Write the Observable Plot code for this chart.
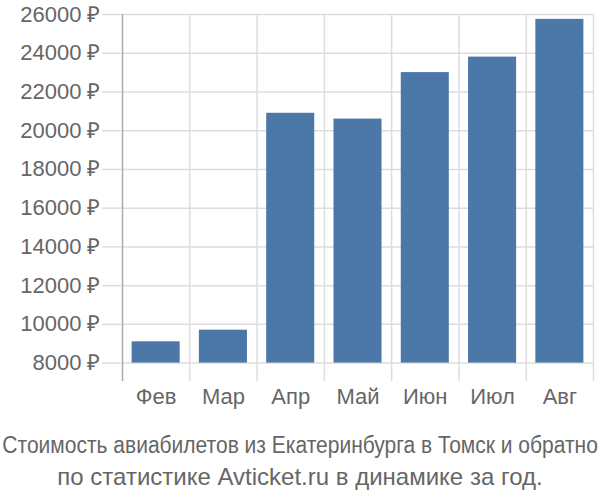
<!DOCTYPE html>
<html>
<head>
<meta charset="utf-8">
<script src="https://cdn.jsdelivr.net/npm/d3@7"></script>
<script src="https://cdn.jsdelivr.net/npm/@observablehq/plot@0.6"></script>
<style>
  html, body { margin: 0; padding: 0; background: #fff; overflow: hidden; }
  #chart { width: 600px; }
  .caption { font-family: "Liberation Sans", Arial, sans-serif; color: #666; margin-top: 9px; white-space: nowrap; }
  .caption .row { display: flex; justify-content: center; line-height: 32px; height: 32px; width: 600px; }
  .caption .row span { flex: none; }
  .caption .l1 span { font-size: 23px; transform: scaleX(0.913); transform-origin: 50% 50%; }
  .caption .l2 span { font-size: 24px; }
</style>
</head>
<body>
<div id="chart"></div>
<script>
const months = ["Фев", "Мар", "Апр", "Май", "Июн", "Июл", "Авг"];
const prices = [9100, 9700, 20900, 20600, 23000, 23800, 25750];
const yTicks = [8000, 10000, 12000, 14000, 16000, 18000, 20000, 22000, 24000, 26000];
const captionLines = ["Стоимость авиабилетов из Екатеринбурга в Томск и обратно", "по статистике Avticket.ru в динамике за год."];
const baseline = 8000;

const data = months.map((m, i) => ({ i, month: m, price: prices[i] }));
const boundaries = d3.range(months.length + 1).map(k => k - 0.5);

const plot = Plot.plot({
  width: 600,
  height: 420,
  marginLeft: 122,
  marginRight: 7,
  marginTop: 14,
  marginBottom: 39,
  style: { fontFamily: "'Liberation Sans', Arial, sans-serif", fontSize: "22px", color: "#666", background: "#fff" },
  x: { domain: [-0.5, months.length - 0.5], label: null },
  y: { domain: [7050, 26000], label: null },
  marks: [
    Plot.gridY(yTicks, { stroke: "#ddd", strokeOpacity: 1, strokeWidth: 1.5 }),
    Plot.ruleX(boundaries.slice(1), { stroke: "#ddd", strokeWidth: 1.5 }),
    Plot.ruleX(boundaries.slice(0, 1), { stroke: "#aaa", strokeWidth: 1.5 }),
    Plot.rectY(data, { x1: d => d.i - 0.357, x2: d => d.i + 0.357, y1: baseline, y2: "price", fill: "#4c78a8" }),
    Plot.axisY(yTicks, { label: null, tickSize: 20, tickPadding: 2, stroke: "#ddd", strokeWidth: 1.5, tickFormat: d => d + "\u00a0₽", fill: "#666", fontSize: 22 }),
    Plot.axisX(d3.range(months.length), { label: null, tickSize: 0, tickPadding: 7, tickFormat: i => months[i], fill: "#666", fontSize: 22 })
  ]
});
document.getElementById("chart").appendChild(plot);
const cap = document.createElement("div");
cap.className = "caption";
captionLines.forEach((t, k) => {
  const row = document.createElement("div");
  row.className = "row l" + (k + 1);
  const span = document.createElement("span");
  span.textContent = t;
  row.appendChild(span);
  cap.appendChild(row);
});
document.getElementById("chart").appendChild(cap);
</script>
</body>
</html>
